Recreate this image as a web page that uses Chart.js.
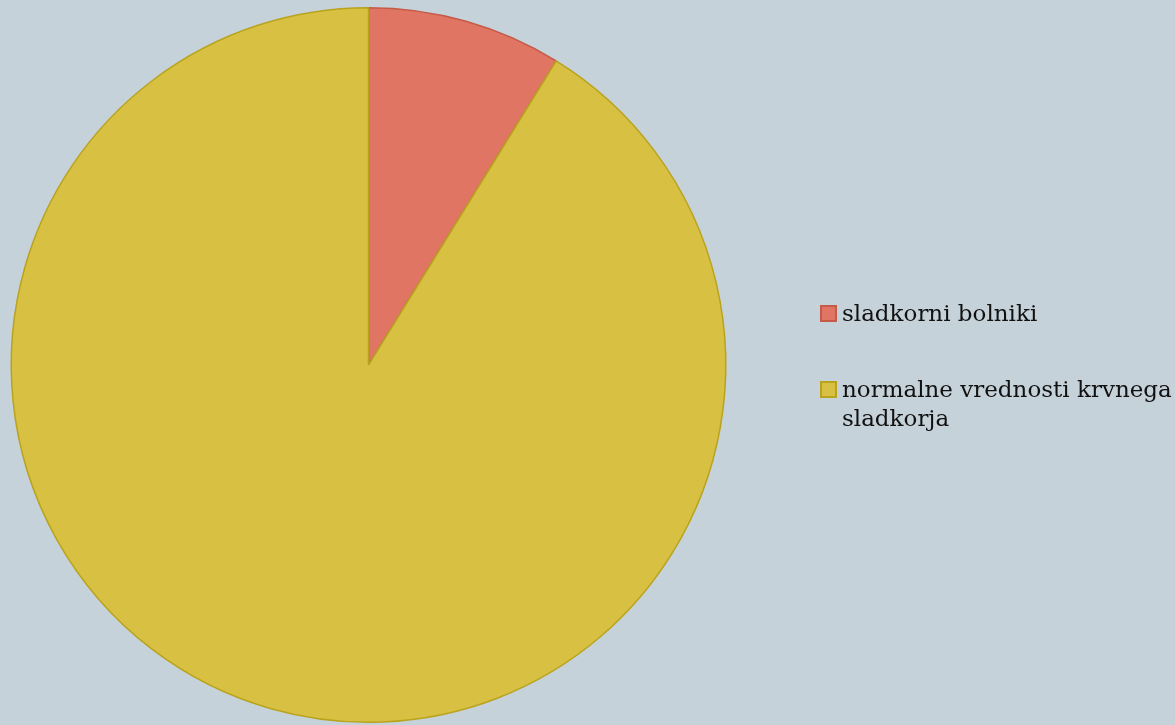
<!DOCTYPE html>
<html>
<head>
<meta charset="utf-8">
<script src="https://cdn.jsdelivr.net/npm/chart.js@4/dist/chart.umd.min.js"></script>
<style>
  html, body { margin: 0; padding: 0; background: #c6d2d9; }
  #wrap { position: relative; width: 1175px; height: 725px; }
  #wrap canvas { position: absolute; left: 0; top: 0; }
  #legenda { position: absolute; left: 820px; top: 299px; width: 355px;
    font-family: "DejaVu Serif", serif; font-size: 23px; line-height: 29px; color: #111; }
  .item { display: flex; align-items: flex-start; margin-bottom: 47px; }
  .kvadrat { width: 13px; height: 13px; border: 2px solid; margin-top: 6px; margin-right: 5px; flex: none; }
</style>
</head>
<body>
<div id="wrap">
  <canvas id="grafPita" width="1175" height="725"></canvas>
  <div id="legenda"></div>
</div>
<script>
// Podatki
const kategorije = ["sladkorni bolniki", "normalne vrednosti krvnega sladkorja"];
const deleži = [8.8, 91.2];

// Barve rezin
const barvePolnila = ["#e07563", "#d8c042"];
const barveObrobe = ["#c55a48", "#b9a31c"];

const graf = new Chart(document.getElementById("grafPita"), {
    type: "pie",
    data: {
        labels: kategorije,
        datasets: [{
            data: deleži,
            backgroundColor: barvePolnila,
            borderColor: barveObrobe,
            borderWidth: 1.5
        }]
    },
    options: {
        responsive: false,
        animation: false,
        layout: {
            padding: { left: 0, right: 438, top: 7, bottom: 2 }
        },
        plugins: {
            legend: { display: false },
            tooltip: { enabled: false }
        }
    }
});

// Legenda desno od pite
const legenda = document.getElementById("legenda");
graf.data.labels.forEach((oznaka, i) => {
    const vrstica = document.createElement("div");
    vrstica.className = "item";
    const kvadrat = document.createElement("span");
    kvadrat.className = "kvadrat";
    kvadrat.style.background = barvePolnila[i];
    kvadrat.style.borderColor = barveObrobe[i];
    const besedilo = document.createElement("span");
    besedilo.textContent = oznaka;
    vrstica.appendChild(kvadrat);
    vrstica.appendChild(besedilo);
    legenda.appendChild(vrstica);
});
</script>
</body>
</html>
